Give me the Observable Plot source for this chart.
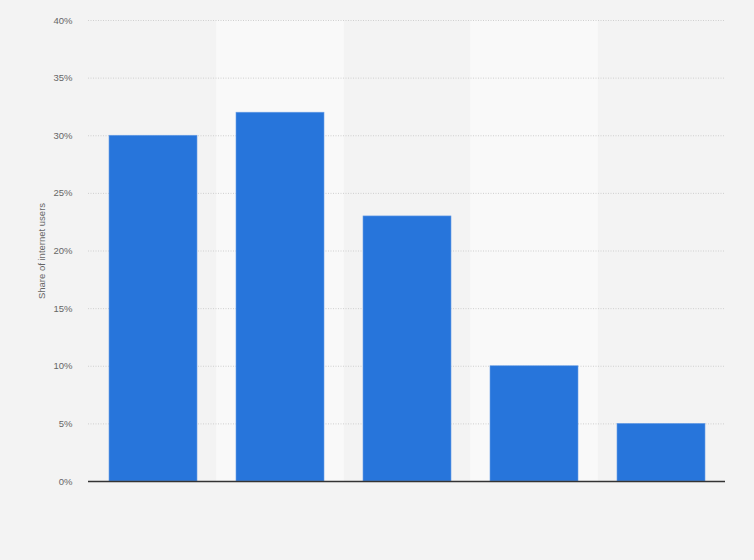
<!DOCTYPE html>
<html>
<head>
<meta charset="utf-8">
<script src="https://cdn.jsdelivr.net/npm/d3@7"></script>
<script src="https://cdn.jsdelivr.net/npm/@observablehq/plot@0.6"></script>
<style>
  html, body { margin: 0; padding: 0; background: #f3f3f3; }
  #chart { width: 754px; height: 560px; }
</style>
</head>
<body>
<div id="chart"></div>
<script>
const categories = ["1", "2", "3", "4", "5"];
const shares = [30, 32, 23, 10, 5];
const yTicks = [0, 5, 10, 15, 20, 25, 30, 35, 40];
const shadedCategories = ["2", "4"];

const data = categories.map((c, i) => ({category: c, share: shares[i]}));
const bands = shadedCategories.map(c => ({category: c}));

const chart = Plot.plot({
  width: 754,
  height: 560,
  marginLeft: 88,
  marginRight: 29,
  marginTop: 20,
  marginBottom: 79,
  style: {background: "#f3f3f3", fontFamily: "Liberation Sans, Arial, sans-serif", fontSize: "9.5px", color: "#666"},
  x: {domain: categories, paddingInner: 0.309, paddingOuter: 0.157, axis: null},
  y: {domain: [0, 40]},
  marks: [
    Plot.barY(bands, {x: "category", y1: 0, y2: 40, fill: "#f9f9f9", insetLeft: -19.7, insetRight: -19.7}),
    Plot.ruleY(yTicks.filter(d => d > 0), {stroke: "#cfcfcf", strokeDasharray: "1,1.5", strokeWidth: 1}),
    Plot.axisY({ticks: yTicks, tickFormat: d => d + "%", tickSize: 0, tickPadding: 16, label: "Share of internet users", labelAnchor: "center", labelArrow: "none", labelOffset: 50, fill: "#666"}),
    Plot.barY(data, {x: "category", y: "share", fill: "#2775db", stroke: "#6a9fe6", strokeWidth: 0.6}),
    Plot.ruleY([0], {stroke: "#333", strokeWidth: 1.5})
  ]
});
document.getElementById("chart").appendChild(chart);
</script>
</body>
</html>
